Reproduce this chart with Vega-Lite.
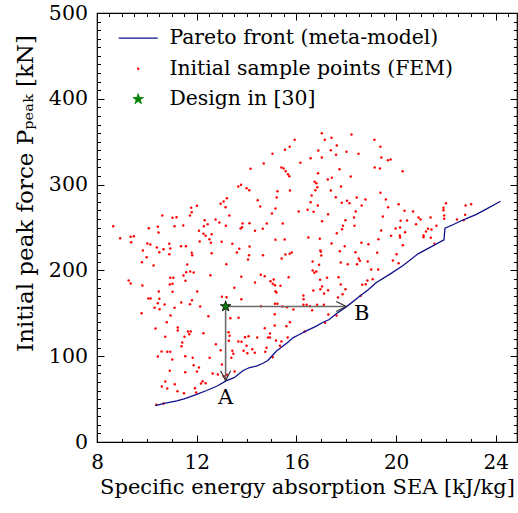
{
  "$schema": "https://vega.github.io/schema/vega-lite/v6.json",
  "width": 420,
  "height": 429,
  "autosize": "none",
  "padding": {"left": 97, "top": 13, "right": 1, "bottom": 71},
  "background": "white",
  "config": {
    "view": {"stroke": "black", "strokeWidth": 1.2},
    "font": "DejaVu Serif",
    "legend": {
      "orient": "none", "legendX": 31, "legendY": 15, "title": null, "padding": 0,
      "labelFont": "DejaVu Serif", "labelFontSize": 20.4, "labelColor": "black", "labelOffset": 21, "labelLimit": 0,
      "symbolSize": 100, "rowPadding": 9.5, "direction": "vertical"
    }
  },
  "datasets": {
    "pts": [
      {"x":13.21,"y":284.2},{"x":13.08,"y":280.3},{"x":12.96,"y":277.6},{"x":13.16,"y":273.7},{"x":12.01,"y":275.3},{"x":11.78,"y":273.0},{"x":11.80,"y":267.8},{"x":11.73,"y":264.0},{"x":13.31,"y":264.0},{"x":10.62,"y":264.0},{"x":11.19,"y":262.0},{"x":11.03,"y":261.3},{"x":12.32,"y":258.5},{"x":12.76,"y":259.3},{"x":12.91,"y":255.8},{"x":12.44,"y":253.8},{"x":11.46,"y":252.3},{"x":11.11,"y":251.5},{"x":10.44,"y":250.8},{"x":10.08,"y":249.2},{"x":12.29,"y":251.5},{"x":13.17,"y":252.0},{"x":8.65,"y":251.5},{"x":12.09,"y":246.2},{"x":10.47,"y":244.2},{"x":12.27,"y":242.7},{"x":12.60,"y":242.2},{"x":12.36,"y":240.3},{"x":9.48,"y":239.9},{"x":9.35,"y":239.2},{"x":8.93,"y":237.5},{"x":12.51,"y":236.4},{"x":12.12,"y":233.7},{"x":13.0,"y":233.3},{"x":9.37,"y":232.9},{"x":12.57,"y":232.2},{"x":13.43,"y":231.0},{"x":10.02,"y":231.4},{"x":10.14,"y":230.2},{"x":10.90,"y":231.0},{"x":11.37,"y":228.2},{"x":11.57,"y":228.2},{"x":10.40,"y":226.7},{"x":10.94,"y":225.5},{"x":10.67,"y":224.7},{"x":9.84,"y":223.2},{"x":10.50,"y":221.2},{"x":11.80,"y":220.5},{"x":11.82,"y":217.7},{"x":10.90,"y":218.9},{"x":12.60,"y":220.0},{"x":9.99,"y":215.4},{"x":9.80,"y":209.6},{"x":10.27,"y":205.7},{"x":11.62,"y":206.9},{"x":13.19,"y":207.2},
      {"x":17.02,"y":359.9},{"x":18.21,"y":358.4},{"x":15.93,"y":352.2},{"x":17.14,"y":352.2},{"x":17.41,"y":354.5},{"x":17.62,"y":345.6},{"x":15.73,"y":344.1},{"x":15.54,"y":340.6},{"x":16.88,"y":339.7},{"x":17.38,"y":340.1},{"x":18.01,"y":338.2},{"x":18.49,"y":335.9},{"x":15.04,"y":335.9},{"x":17.59,"y":334.7},{"x":16.57,"y":330.8},{"x":17.02,"y":331.6},{"x":16.16,"y":325.4},{"x":14.69,"y":324.6},{"x":14.16,"y":318.4},{"x":15.40,"y":319.9},{"x":15.49,"y":318.8},{"x":15.57,"y":315.6},{"x":17.73,"y":318.0},{"x":16.87,"y":313.3},{"x":15.66,"y":312.1},{"x":15.72,"y":309.8},{"x":17.42,"y":307.9},{"x":18.18,"y":309.4},{"x":17.26,"y":305.9},{"x":16.73,"y":303.3},{"x":16.80,"y":301.6},{"x":13.78,"y":299.8},{"x":13.67,"y":297.8},{"x":16.84,"y":297.0},{"x":17.79,"y":297.8},{"x":14.0,"y":295.8},{"x":14.11,"y":293.5},{"x":15.24,"y":292.3},{"x":15.74,"y":293.1},{"x":16.76,"y":293.5},{"x":17.38,"y":293.1},{"x":16.61,"y":287.3},{"x":15.21,"y":285.0},{"x":17.58,"y":285.3},{"x":18.42,"y":285.0},{"x":14.45,"y":281.8},{"x":18.03,"y":281.1},{"x":16.57,"y":279.5},{"x":17.82,"y":278.8},{"x":18.13,"y":278.3},{"x":18.62,"y":275.6},{"x":16.86,"y":275.6},{"x":14.55,"y":274.5},{"x":15.16,"y":272.1},{"x":16.45,"y":270.6},{"x":16.09,"y":268.6},{"x":16.69,"y":268.3},{"x":18.38,"y":268.6},{"x":15.02,"y":266.3},{"x":17.27,"y":265.5},{"x":18.31,"y":261.7},{"x":17.97,"y":258.5},{"x":17.03,"y":257.3},{"x":13.84,"y":254.7},{"x":14.12,"y":255.0},{"x":14.81,"y":254.7},{"x":15.45,"y":254.7},{"x":17.87,"y":252.0},{"x":18.33,"y":252.0},{"x":13.82,"y":250.3},{"x":13.76,"y":248.8},{"x":14.65,"y":248.5},{"x":17.83,"y":248.0},{"x":14.34,"y":246.2},{"x":17.62,"y":243.4},{"x":16.48,"y":238.3},{"x":16.94,"y":236.8},{"x":15.16,"y":235.7},{"x":15.53,"y":236.0},{"x":17.41,"y":231.4},{"x":18.61,"y":232.2},{"x":14.12,"y":227.9},{"x":17.94,"y":228.2},{"x":13.71,"y":225.2},{"x":16.96,"y":223.2},{"x":16.98,"y":221.7},{"x":17.74,"y":222.4},{"x":18.37,"y":221.2},{"x":15.81,"y":220.9},{"x":15.73,"y":219.3},{"x":15.56,"y":218.5},{"x":13.61,"y":220.9},{"x":14.10,"y":217.7},{"x":14.66,"y":217.7},{"x":17.0,"y":217.4},{"x":18.50,"y":213.9},{"x":15.41,"y":213.9},{"x":14.06,"y":212.7},{"x":18.55,"y":211.2},{"x":16.65,"y":210.4},{"x":17.78,"y":209.2},{"x":16.91,"y":206.5},{"x":18.43,"y":207.2},{"x":18.06,"y":207.2},
      {"x":19.13,"y":352.2},{"x":19.37,"y":344.1},{"x":19.41,"y":331.6},{"x":19.67,"y":328.4},{"x":19.78,"y":329.3},{"x":19.14,"y":319.9},{"x":19.35,"y":318.8},{"x":20.26,"y":315.6},{"x":19.37,"y":290.4},{"x":18.77,"y":282.6},{"x":19.59,"y":282.6},{"x":20.10,"y":277.2},{"x":19.68,"y":273.7},{"x":22.0,"y":278.3},{"x":21.90,"y":273.0},{"x":21.90,"y":270.2},{"x":23.01,"y":277.2},{"x":22.79,"y":275.6},{"x":20.34,"y":269.5},{"x":20.68,"y":268.6},{"x":21.93,"y":264.0},{"x":22.77,"y":264.8},{"x":19.47,"y":262.8},{"x":20.90,"y":261.7},{"x":20.98,"y":259.3},{"x":21.38,"y":261.7},{"x":21.93,"y":260.1},{"x":22.44,"y":259.3},{"x":22.71,"y":258.5},{"x":20.18,"y":257.8},{"x":20.44,"y":258.2},{"x":20.80,"y":253.8},{"x":21.62,"y":252.0},{"x":19.98,"y":248.8},{"x":20.16,"y":250.0},{"x":21.28,"y":248.5},{"x":21.42,"y":247.7},{"x":19.40,"y":246.5},{"x":21.20,"y":245.3},{"x":20.36,"y":244.5},{"x":19.80,"y":240.3},{"x":20.15,"y":240.7},{"x":21.10,"y":240.7},{"x":20.16,"y":238.3},{"x":21.10,"y":238.7},{"x":21.39,"y":238.0},{"x":19.29,"y":236.4},{"x":21.54,"y":231.0},{"x":18.89,"y":230.5},{"x":20.27,"y":229.4},{"x":19.24,"y":220.5},{"x":20.02,"y":218.9},{"x":19.87,"y":211.5},{"x":20.10,"y":208.4},{"x":18.86,"y":210.4},
      {"x":9.27,"y":188.2},{"x":9.35,"y":184.7},{"x":9.82,"y":182.4},{"x":10.94,"y":191.4},{"x":11.06,"y":191.4},{"x":10.92,"y":183.6},{"x":11.03,"y":184.4},{"x":11.47,"y":194.1},{"x":11.55,"y":187.9},{"x":11.58,"y":197.9},{"x":11.74,"y":198.7},{"x":11.88,"y":197.6},{"x":12.55,"y":194.4},{"x":10.48,"y":175.4},{"x":11.03,"y":175.1},{"x":12.02,"y":175.4},{"x":10.06,"y":167.3},{"x":10.15,"y":167.3},{"x":10.50,"y":166.9},{"x":10.44,"y":161.8},{"x":10.71,"y":160.3},{"x":11.38,"y":162.6},{"x":11.81,"y":165.3},{"x":11.73,"y":160.6},{"x":12.14,"y":157.9},{"x":10.31,"y":156.4},{"x":10.51,"y":154.8},{"x":11.11,"y":156.4},{"x":13.01,"y":169.2},{"x":13.20,"y":168.8},{"x":9.79,"y":150.1},{"x":10.95,"y":147.4},{"x":12.47,"y":146.6},{"x":13.35,"y":144.3},{"x":10.80,"y":139.6},{"x":10.35,"y":132.3},{"x":11.24,"y":133.5},{"x":11.24,"y":130.0},{"x":11.65,"y":128.8},{"x":11.76,"y":128.8},{"x":11.70,"y":125.6},{"x":12.27,"y":126.8},{"x":13.28,"y":128.0},{"x":10.74,"y":122.6},{"x":11.51,"y":122.6},{"x":13.32,"y":123.8},{"x":11.42,"y":116.0},{"x":11.39,"y":111.7},{"x":12.77,"y":114.0},{"x":13.29,"y":117.9},{"x":10.59,"y":105.5},{"x":10.82,"y":105.1},{"x":10.94,"y":105.1},{"x":12.96,"y":107.0},{"x":13.43,"y":106.3},{"x":10.44,"y":99.7},{"x":11.54,"y":100.0},{"x":11.84,"y":98.1},{"x":12.52,"y":98.1},{"x":13.39,"y":98.1},{"x":11.02,"y":96.2},{"x":13.47,"y":102.8},{"x":11.88,"y":89.5},{"x":12.09,"y":86.8},{"x":13.01,"y":90.3},{"x":10.92,"y":83.0},{"x":11.54,"y":81.4},{"x":12.01,"y":82.2},{"x":12.64,"y":79.8},{"x":12.85,"y":78.7},{"x":10.74,"y":70.5},{"x":11.12,"y":67.4},{"x":12.24,"y":70.9},{"x":12.17,"y":68.2},{"x":12.36,"y":68.5},{"x":10.60,"y":64.7},{"x":10.82,"y":62.4},{"x":11.93,"y":62.7},{"x":11.23,"y":59.2},{"x":11.49,"y":56.9},{"x":11.98,"y":57.7},{"x":13.21,"y":78.3},{"x":13.09,"y":76.7},{"x":10.38,"y":43.4},{"x":10.67,"y":44.9},{"x":13.51,"y":179.7},
      {"x":13.79,"y":192.5},{"x":14.57,"y":194.9},{"x":14.73,"y":193.2},{"x":14.34,"y":185.9},{"x":14.96,"y":187.4},{"x":15.09,"y":189.4},{"x":15.05,"y":184.4},{"x":15.14,"y":182.8},{"x":15.36,"y":182.1},{"x":15.69,"y":192.1},{"x":15.16,"y":175.8},{"x":15.20,"y":174.2},{"x":16.65,"y":199.9},{"x":16.80,"y":198.7},{"x":16.72,"y":197.2},{"x":16.95,"y":189.0},{"x":17.23,"y":191.4},{"x":17.69,"y":192.1},{"x":17.78,"y":183.6},{"x":17.97,"y":178.1},{"x":17.03,"y":181.2},{"x":16.96,"y":178.1},{"x":16.68,"y":176.6},{"x":17.27,"y":176.9},{"x":17.11,"y":173.1},{"x":17.85,"y":172.3},{"x":17.67,"y":168.4},{"x":18.64,"y":183.2},{"x":18.58,"y":170.4},{"x":13.79,"y":166.4},{"x":16.28,"y":170.7},{"x":16.29,"y":166.4},{"x":15.14,"y":161.1},{"x":15.24,"y":161.1},{"x":14.58,"y":158.3},{"x":15.44,"y":157.9},{"x":15.62,"y":157.1},{"x":15.88,"y":154.4},{"x":16.28,"y":159.9},{"x":16.41,"y":159.9},{"x":16.55,"y":158.3},{"x":16.63,"y":153.6},{"x":16.83,"y":159.9},{"x":17.10,"y":159.9},{"x":15.13,"y":149.0},{"x":13.68,"y":144.8},{"x":17.28,"y":148.6},{"x":17.61,"y":147.4},{"x":15.74,"y":139.6},{"x":15.60,"y":135.0},{"x":15.13,"y":135.8},{"x":17.15,"y":138.9},{"x":14.73,"y":132.6},{"x":14.94,"y":126.5},{"x":14.86,"y":121.8},{"x":14.94,"y":121.8},{"x":14.43,"y":121.8},{"x":14.08,"y":123.3},{"x":13.94,"y":122.1},{"x":15.65,"y":121.8},{"x":16.33,"y":128.8},{"x":15.18,"y":118.3},{"x":15.40,"y":117.1},{"x":13.67,"y":117.1},{"x":13.80,"y":116.8},{"x":14.0,"y":112.1},{"x":15.34,"y":112.1},{"x":14.80,"y":109.8},{"x":14.23,"y":108.2},{"x":13.88,"y":106.3},{"x":14.03,"y":103.5},{"x":14.33,"y":104.0},{"x":14.75,"y":105.1},{"x":15.05,"y":98.8},{"x":13.52,"y":82.2},
      {"x":19.0,"y":201.1},{"x":19.28,"y":201.1},{"x":18.85,"y":188.2},{"x":19.06,"y":189.7},{"x":18.78,"y":183.9}
    ],
    "front": [
      {"x":10.35,"y":42.5},{"x":10.7,"y":45},{"x":11.2,"y":48},{"x":11.5,"y":50.3},{"x":12.0,"y":55.5},{"x":12.4,"y":60},{"x":12.8,"y":65},{"x":13.2,"y":71.5},{"x":13.5,"y":75},{"x":13.85,"y":83},{"x":14.1,"y":86.5},{"x":14.4,"y":88.5},{"x":14.66,"y":91.8},{"x":14.85,"y":95},{"x":15.0,"y":99.7},{"x":15.2,"y":106},{"x":15.4,"y":110.5},{"x":15.66,"y":116.3},{"x":15.86,"y":121.4},{"x":16.1,"y":125},{"x":16.4,"y":129.5},{"x":16.8,"y":135},{"x":17.07,"y":139.6},{"x":17.3,"y":142.5},{"x":17.6,"y":149.4},{"x":18.0,"y":157.5},{"x":18.5,"y":169},{"x":18.88,"y":177.4},{"x":19.21,"y":186},{"x":19.8,"y":196.5},{"x":20.28,"y":205.7},{"x":20.88,"y":219.3},{"x":21.4,"y":227.5},{"x":21.92,"y":235.7},{"x":21.96,"y":249.2},{"x":22.3,"y":253.5},{"x":22.7,"y":259},{"x":23.2,"y":265},{"x":23.56,"y":270.6},{"x":24.19,"y":280.6}
    ],
    "design": [{"x":13.16,"y":158}],
    "arrows": [
      {"x":13.16,"y":158,"x2":13.16,"y2":71.5,"angle":90},
      {"x":13.16,"y":158,"x2":18.0,"y2":158,"angle":0}
    ],
    "labels": [
      {"x":13.16,"y":51.5,"t":"A"},
      {"x":18.62,"y":149,"t":"B"}
    ]
  },
  "resolve": {"axis": {"x": "independent", "y": "independent"}},
  "layer": [
    {
      "data": {"name": "pts"},
      "mark": {"type": "circle", "size": 6, "opacity": 1},
      "encoding": {
        "x": {"field": "x", "type": "quantitative",
          "scale": {"domain": [8, 24.85], "nice": false, "zero": false},
          "axis": {"orient": "bottom",
            "values": [8,8.5,9,9.5,10,10.5,11,11.5,12,12.5,13,13.5,14,14.5,15,15.5,16,16.5,17,17.5,18,18.5,19,19.5,20,20.5,21,21.5,22,22.5,23,23.5,24,24.5],
            "format": "d",
            "labelExpr": "datum.value % 4 === 0 ? datum.label : ''",
            "tickSize": {"condition": {"test": "datum.value % 4 === 0", "value": -7}, "value": -3.5},
            "tickColor": "black", "tickWidth": 1, "domain": false, "grid": false,
            "labelFont": "DejaVu Serif", "labelFontSize": 20, "labelColor": "black",
            "labelPadding": 17, "labelOverlap": false, "labelFlush": false, "labelBound": false,
            "title": "Specific energy absorption SEA [kJ/kg]",
            "titleFont": "DejaVu Serif", "titleFontSize": 21, "titleFontWeight": "normal", "titleColor": "black",
            "titleBaseline": "alphabetic", "titleY": 51}},
        "y": {"field": "y", "type": "quantitative",
          "scale": {"domain": [0, 500], "nice": false, "zero": false},
          "axis": {"orient": "left",
            "values": [0,10,20,30,40,50,60,70,80,90,100,110,120,130,140,150,160,170,180,190,200,210,220,230,240,250,260,270,280,290,300,310,320,330,340,350,360,370,380,390,400,410,420,430,440,450,460,470,480,490,500],
            "format": "d",
            "labelExpr": "datum.value % 100 === 0 ? datum.label : ''",
            "tickSize": {"condition": {"test": "datum.value % 100 === 0", "value": -7}, "value": -3.5},
            "tickColor": "black", "tickWidth": 1, "domain": false, "grid": false,
            "labelFont": "DejaVu Serif", "labelFontSize": 20.5, "labelColor": "black",
            "labelPadding": 16.5, "labelOverlap": false, "labelFlush": false, "labelBound": false,
            "title": "Initial peak force Pₚₑₐₖ [kN]",
            "titleFont": "DejaVu Serif", "titleFontSize": 23, "titleFontWeight": "normal", "titleColor": "black",
            "titleBaseline": "alphabetic", "titleX": -65, "titleY": 180, "titleAngle": -90, "titleAlign": "center"}},
        "color": {"datum": "Initial sample points (FEM)", "type": "nominal",
          "scale": {"domain": ["Pareto front (meta-model)", "Initial sample points (FEM)", "Design in [30]"], "range": ["#10108c", "#ff0000", "#008000"]},
          "legend": {
            "encode": {"symbols": {"update": {
              "shape": {"signal": "datum.value === 'Pareto front (meta-model)' ? 'M-3.9,0L3.9,0' : datum.value === 'Design in [30]' ? 'M0,-1L0.2245,-0.309L0.951,-0.309L0.363,0.118L0.588,0.809L0,0.382L-0.588,0.809L-0.363,0.118L-0.951,-0.309L-0.2245,-0.309Z' : 'circle'"},
              "size": {"signal": "datum.value === 'Pareto front (meta-model)' ? 100 : datum.value === 'Design in [30]' ? 125 : 6"},
              "fill": {"signal": "datum.value === 'Pareto front (meta-model)' ? 'transparent' : datum.value === 'Design in [30]' ? '#008000' : '#ff0000'"},
              "stroke": {"signal": "datum.value === 'Pareto front (meta-model)' ? '#10108c' : datum.value === 'Design in [30]' ? 'black' : '#ff0000'"},
              "strokeWidth": {"signal": "datum.value === 'Pareto front (meta-model)' ? 1.3 : datum.value === 'Design in [30]' ? 0.8 : 0"},
              "opacity": {"value": 1}
            }}}
          }}
      }
    },
    {
      "data": {"name": "front"},
      "mark": {"type": "line", "strokeWidth": 1.3},
      "encoding": {
        "x": {"field": "x", "type": "quantitative",
          "scale": {"domain": [8, 24.85], "nice": false, "zero": false},
          "axis": {"orient": "top",
            "values": [8,8.5,9,9.5,10,10.5,11,11.5,12,12.5,13,13.5,14,14.5,15,15.5,16,16.5,17,17.5,18,18.5,19,19.5,20,20.5,21,21.5,22,22.5,23,23.5,24,24.5],
            "labels": false, "title": null, "domain": false, "grid": false, "tickColor": "black", "tickWidth": 1,
            "tickSize": {"condition": {"test": "datum.value % 4 === 0", "value": -7}, "value": -3.5}}},
        "y": {"field": "y", "type": "quantitative",
          "scale": {"domain": [0, 500], "nice": false, "zero": false},
          "axis": {"orient": "right",
            "values": [0,10,20,30,40,50,60,70,80,90,100,110,120,130,140,150,160,170,180,190,200,210,220,230,240,250,260,270,280,290,300,310,320,330,340,350,360,370,380,390,400,410,420,430,440,450,460,470,480,490,500],
            "labels": false, "title": null, "domain": false, "grid": false, "tickColor": "black", "tickWidth": 1,
            "tickSize": {"condition": {"test": "datum.value % 100 === 0", "value": -7}, "value": -3.5}}},
        "color": {"datum": "Pareto front (meta-model)", "type": "nominal",
          "legend": {
            "encode": {"symbols": {"update": {
              "shape": {"signal": "datum.value === 'Pareto front (meta-model)' ? 'M-3.9,0L3.9,0' : datum.value === 'Design in [30]' ? 'M0,-1L0.2245,-0.309L0.951,-0.309L0.363,0.118L0.588,0.809L0,0.382L-0.588,0.809L-0.363,0.118L-0.951,-0.309L-0.2245,-0.309Z' : 'circle'"},
              "size": {"signal": "datum.value === 'Pareto front (meta-model)' ? 100 : datum.value === 'Design in [30]' ? 125 : 6"},
              "fill": {"signal": "datum.value === 'Pareto front (meta-model)' ? 'transparent' : datum.value === 'Design in [30]' ? '#008000' : '#ff0000'"},
              "stroke": {"signal": "datum.value === 'Pareto front (meta-model)' ? '#10108c' : datum.value === 'Design in [30]' ? 'black' : '#ff0000'"},
              "strokeWidth": {"signal": "datum.value === 'Pareto front (meta-model)' ? 1.3 : datum.value === 'Design in [30]' ? 0.8 : 0"},
              "opacity": {"value": 1}
            }}}
          }}
      }
    },
    {
      "data": {"name": "arrows"},
      "mark": {"type": "rule", "color": "#6a6a6a", "strokeWidth": 1.6},
      "encoding": {
        "x": {"field": "x", "type": "quantitative", "scale": {"domain": [8, 24.85], "nice": false, "zero": false}, "axis": null},
        "y": {"field": "y", "type": "quantitative", "scale": {"domain": [0, 500], "nice": false, "zero": false}, "axis": null},
        "x2": {"field": "x2"},
        "y2": {"field": "y2"}
      }
    },
    {
      "data": {"name": "arrows"},
      "mark": {"type": "point", "shape": "M-1,-0.5L0,0L-1,0.5", "filled": false, "size": 400, "stroke": "#333333", "strokeWidth": 1.2, "opacity": 1},
      "encoding": {
        "x": {"field": "x2", "type": "quantitative", "scale": {"domain": [8, 24.85], "nice": false, "zero": false}, "axis": null},
        "y": {"field": "y2", "type": "quantitative", "scale": {"domain": [0, 500], "nice": false, "zero": false}, "axis": null},
        "angle": {"field": "angle", "type": "quantitative", "scale": null}
      }
    },
    {
      "data": {"name": "design"},
      "mark": {"type": "point", "shape": "M0,-1L0.2245,-0.309L0.951,-0.309L0.363,0.118L0.588,0.809L0,0.382L-0.588,0.809L-0.363,0.118L-0.951,-0.309L-0.2245,-0.309Z", "filled": true, "size": 125, "stroke": "black", "strokeWidth": 0.8, "opacity": 1},
      "encoding": {
        "x": {"field": "x", "type": "quantitative", "scale": {"domain": [8, 24.85], "nice": false, "zero": false}, "axis": null},
        "y": {"field": "y", "type": "quantitative", "scale": {"domain": [0, 500], "nice": false, "zero": false}, "axis": null},
        "color": {"datum": "Design in [30]", "type": "nominal",
          "legend": {
            "encode": {"symbols": {"update": {
              "shape": {"signal": "datum.value === 'Pareto front (meta-model)' ? 'M-3.9,0L3.9,0' : datum.value === 'Design in [30]' ? 'M0,-1L0.2245,-0.309L0.951,-0.309L0.363,0.118L0.588,0.809L0,0.382L-0.588,0.809L-0.363,0.118L-0.951,-0.309L-0.2245,-0.309Z' : 'circle'"},
              "size": {"signal": "datum.value === 'Pareto front (meta-model)' ? 100 : datum.value === 'Design in [30]' ? 125 : 6"},
              "fill": {"signal": "datum.value === 'Pareto front (meta-model)' ? 'transparent' : datum.value === 'Design in [30]' ? '#008000' : '#ff0000'"},
              "stroke": {"signal": "datum.value === 'Pareto front (meta-model)' ? '#10108c' : datum.value === 'Design in [30]' ? 'black' : '#ff0000'"},
              "strokeWidth": {"signal": "datum.value === 'Pareto front (meta-model)' ? 1.3 : datum.value === 'Design in [30]' ? 0.8 : 0"},
              "opacity": {"value": 1}
            }}}
          }}
      }
    },
    {
      "data": {"name": "labels"},
      "mark": {"type": "text", "font": "DejaVu Serif", "fontSize": 21, "color": "black", "align": "center", "baseline": "middle"},
      "encoding": {
        "x": {"field": "x", "type": "quantitative", "scale": {"domain": [8, 24.85], "nice": false, "zero": false}, "axis": null},
        "y": {"field": "y", "type": "quantitative", "scale": {"domain": [0, 500], "nice": false, "zero": false}, "axis": null},
        "text": {"field": "t"}
      }
    }
  ]
}
